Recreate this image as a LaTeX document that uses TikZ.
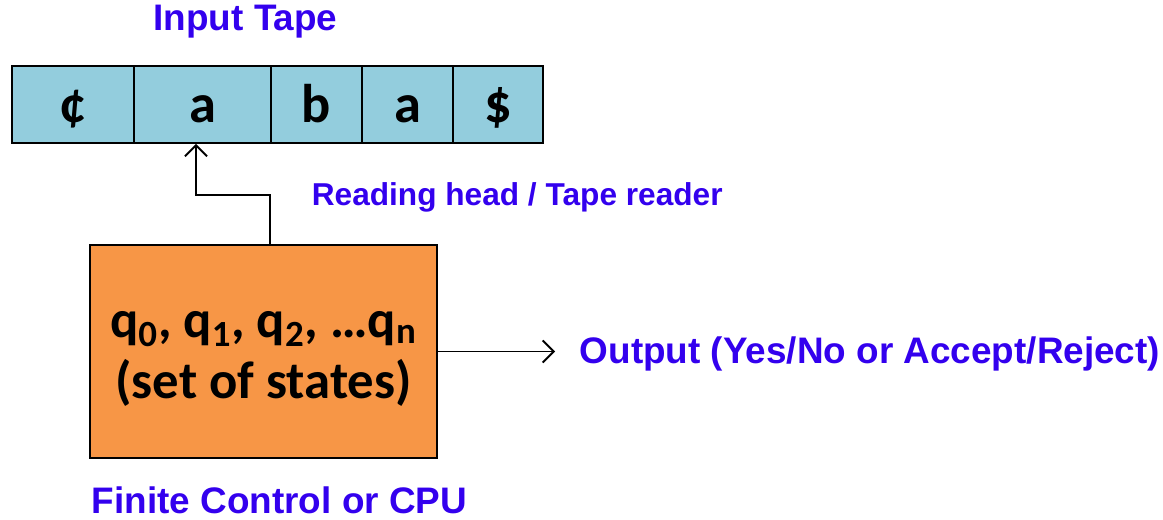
\documentclass[tikz,border=0pt]{standalone}
\usepackage{fontspec}
\setmainfont{Carlito}
\newfontfamily\arialfont{Liberation Sans}
\usepackage{tikz}
\usetikzlibrary{arrows.meta,positioning,calc}
\usepackage{xcolor}
\definecolor{tapeblue}{RGB}{147,205,221}
\definecolor{ctrlorange}{RGB}{247,150,70}
\definecolor{labelblue}{RGB}{51,0,238}

\begin{document}
\begin{tikzpicture}[>={Straight Barb[length=2.2mm,width=4.4mm]},line width=1.1pt,
    cell/.style={draw,fill=tapeblue,minimum height=1.54cm,inner sep=0pt,
      text height=0.78cm,text depth=0.08cm,
      font=\fontsize{31}{33}\selectfont\bfseries},
    lbl/.style={labelblue,font=\arialfont\bfseries\fontsize{21}{23}\selectfont}]
    \useasboundingbox (0,0) rectangle (23.26,10.38);

    % Input tape
    \node[cell,minimum width=2.44cm] (c1) at (1.46,8.29) {¢};
    \node[cell,minimum width=2.74cm] (c2) at (4.05,8.29) {a};
    \node[cell,minimum width=1.82cm] (c3) at (6.33,8.29) {b};
    \node[cell,minimum width=1.82cm] (c4) at (8.15,8.29) {a};
    \node[cell,minimum width=1.80cm] (c5) at (9.96,8.29) {\$};
    \node[lbl] (tape) at (4.91,9.94) {Input Tape};

    % Finite control
    \node[draw,fill=ctrlorange,minimum width=6.94cm,minimum height=4.26cm] (ctrl) at (5.27,3.35) {};
    \node[align=center,font=\fontsize{30}{35}\selectfont\bfseries] (states) at ([yshift=-0.15cm]ctrl.center)
      {q\textsubscript{0}, q\textsubscript{1}, q\textsubscript{2}, \dots q\textsubscript{n}\\(set of states)};
    \node[lbl] (cpu) at (5.59,0.38) {Finite Control or CPU};

    % Reading head
    \coordinate (head) at ([xshift=-0.13cm]c2.south);
    \coordinate (bend) at (5.40,6.48);
    \draw[->] ([xshift=0.13cm]ctrl.north) |- (bend) -| (head);
    \node[lbl,font=\arialfont\bfseries\fontsize{18}{20}\selectfont,anchor=west] (reader) at (6.10,6.44)
      {Reading head / Tape reader};

    % Output
    \node[lbl,anchor=west] (out) at (11.46,3.30) {Output (Yes/No or Accept/Reject)};
    \draw[->] (ctrl.east) -- ([xshift=-0.36cm]ctrl.east -| out.west);
  \end{tikzpicture}
\end{document}
